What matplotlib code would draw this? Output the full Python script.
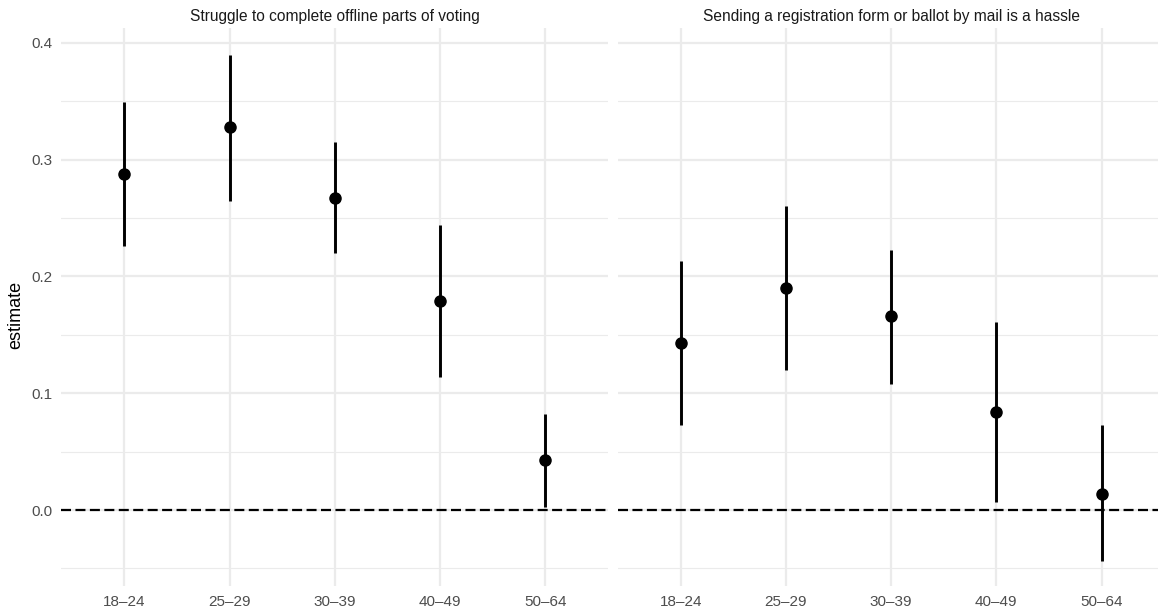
import matplotlib.pyplot as plt
import numpy as np

plt.rcParams['font.family'] = ['Liberation Sans', 'DejaVu Sans']

ages = ['18–24', '25–29', '30–39', '40–49', '50–64']
titles = ['Struggle to complete offline parts of voting',
          'Sending a registration form or ballot by mail is a hassle']

# left panel: offline struggle
est_offline = [0.288, 0.328, 0.267, 0.179, 0.043]
lo_offline = [0.226, 0.265, 0.220, 0.114, 0.003]
hi_offline = [0.349, 0.390, 0.315, 0.244, 0.082]

# right panel: mail hassle
est_mail = [0.143, 0.190, 0.166, 0.084, 0.014]
lo_mail = [0.073, 0.120, 0.108, 0.007, -0.044]
hi_mail = [0.213, 0.260, 0.223, 0.161, 0.073]

panels = [(est_offline, lo_offline, hi_offline),
          (est_mail, lo_mail, hi_mail)]

W, H = 1158, 611
fig = plt.figure(figsize=(W / 100, H / 100), dpi=100)
fig.patch.set_facecolor('white')

lefts = [61.2, 617.5]
pw = 547.2
bottom, top = 586, 28

grid_col = '#EBEBEB'
for k, (est, lo, hi) in enumerate(panels):
    ax = fig.add_axes([lefts[k] / W, (H - bottom) / H, pw / W, (bottom - top) / H])
    x = np.arange(1, len(ages) + 1)
    ax.set_xlim(0.4, 5.6)
    ax.set_ylim(-0.065, 0.4127)
    for s in ax.spines.values():
        s.set_visible(False)

    # grid
    for yv in [0.0, 0.1, 0.2, 0.3, 0.4]:
        ax.axhline(yv, color=grid_col, lw=1.6, zorder=0)
    for yv in [-0.05, 0.05, 0.15, 0.25, 0.35]:
        ax.axhline(yv, color=grid_col, lw=0.8, zorder=0)
    for xv in x:
        ax.axvline(xv, color=grid_col, lw=1.6, zorder=0)

    ax.axhline(0, color='black', lw=1.6, dashes=(4.5, 2), zorder=1)

    err = [np.array(est) - np.array(lo), np.array(hi) - np.array(est)]
    ax.errorbar(x, est, yerr=err, fmt='o', color='black', ms=8,
                elinewidth=2.1, capsize=0, zorder=3)

    ax.set_xticks(x)
    ax.set_xticklabels(ages)
    ax.set_yticks([0.0, 0.1, 0.2, 0.3, 0.4])
    ax.set_yticklabels(['0.0', '0.1', '0.2', '0.3', '0.4'])
    ax.tick_params(length=0, labelsize=11, labelcolor='#4D4D4D', pad=6.5)
    if k == 1:
        ax.tick_params(axis='y', labelleft=False)
    ax.set_title(titles[k], fontsize=11.2, color='#1A1A1A', pad=5)

fig.text(16 / W, 1 - 315 / H, 'estimate', rotation=90, fontsize=13,
         ha='center', va='center', color='black')

fig.savefig('out.png', dpi=100)
